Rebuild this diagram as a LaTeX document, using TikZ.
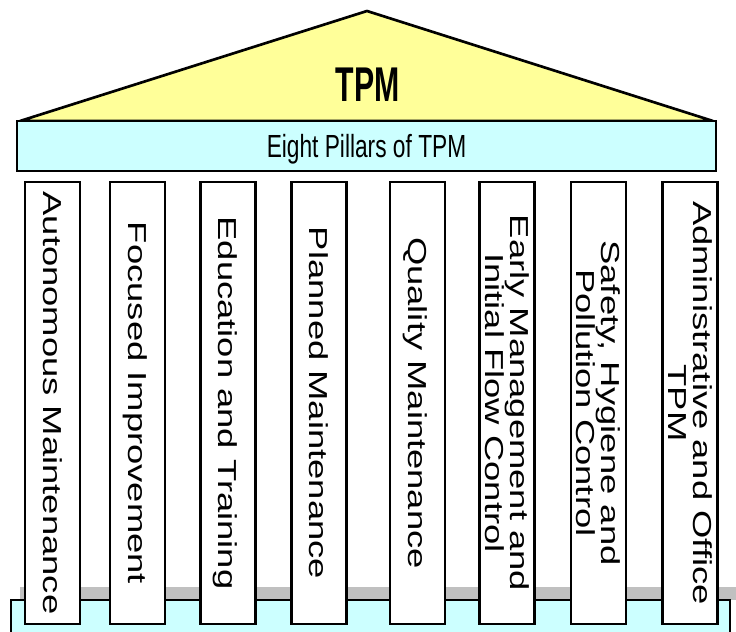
\documentclass[tikz,border=0pt]{standalone}
\usepackage{fontspec}
\setmainfont{Liberation Sans}
\newfontfamily\pillarfont[FakeStretch=1.40]{Liberation Sans}
\newfontfamily\bandfont[FakeStretch=0.71]{Liberation Sans}
\newfontfamily\rooffont[FakeStretch=0.62]{Liberation Sans}
\definecolor{roofyellow}{RGB}{255,255,153}
\definecolor{bandcyan}{RGB}{204,255,255}
\definecolor{shadowgray}{RGB}{192,192,192}

\begin{document}
\begin{tikzpicture}[x=0.75pt, y=-0.75pt,
	pillar/.style={draw, line width=2pt, fill=white, rotate=-90, minimum width=331.5pt, minimum height=41.25pt, inner sep=0pt, text depth=0pt, align=center, font=\pillarfont\fontsize{19.5}{18.75}\selectfont},
	band/.style={draw, line width=2pt, fill=bandcyan, minimum width=524.25pt, minimum height=37.5pt, inner sep=0pt, text depth=0pt, font=\bandfont\fontsize{24}{26}\selectfont}]
	\useasboundingbox (0,0) rectangle (736,632);
	% roof
	\draw[line width=2pt, fill=roofyellow, line join=bevel] (20,121) -- (367,11) -- (713,121) -- cycle;
	\node[font=\rooffont\bfseries\fontsize{36.6}{40}\selectfont] (tpm) at (367.5,85) {TPM};
	\node[band] (band) at (366.5,146) {Eight Pillars of TPM};
	% base
	\fill[shadowgray] (20,587) rectangle (736,600);
	\draw[line width=2pt, fill=bandcyan] (11,632) -- (11,600) -- (730,600) -- (730,632);
	% pillars
	\node[pillar] (p1) at (52.5,403) {Autonomous Maintenance};
	\node[pillar] (p2) at (137.5,403) {Focused Improvement};
	\node[pillar] (p3) at (228,403) {Education and Training};
	\node[pillar] (p4) at (319,403) {Planned Maintenance};
	\node[pillar] (p5) at (417.5,403) {Quality Maintenance};
	\node[pillar] (p6) at (507,403) {Early Management and\\Initial Flow Control};
	\node[pillar] (p7) at (598.5,403) {Safety, Hygiene and\\Pollution Control};
	\node[pillar] (p8) at (690,403) {Administrative and Office\\TPM};
\end{tikzpicture}
\end{document}
